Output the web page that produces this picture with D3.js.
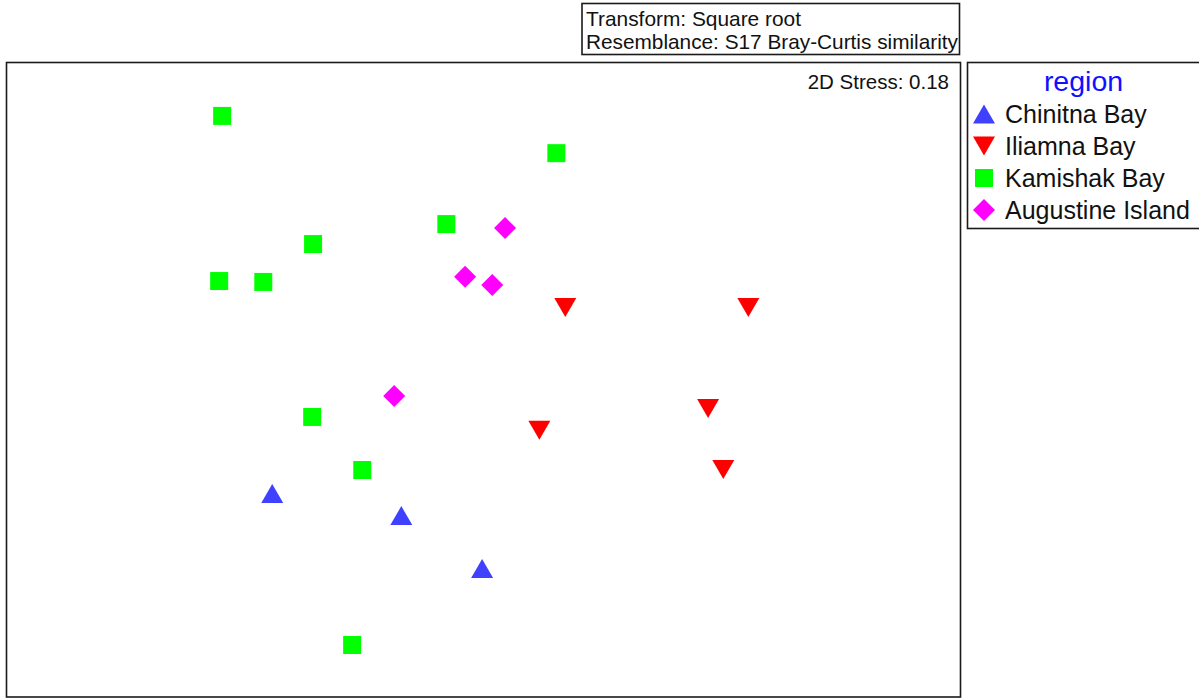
<!DOCTYPE html>
<html><head><meta charset="utf-8">
<script src="https://cdn.jsdelivr.net/npm/d3@7"></script>
<style>body{margin:0;background:#fff;} svg{display:block;font-family:"Liberation Sans",Arial,sans-serif;}</style>
</head><body>
<script>
// nMDS coordinates (MDS1, MDS2) per region
const regions = ["Chinitna Bay", "Iliamna Bay", "Kamishak Bay", "Augustine Island"];
const chinitnaX = [-0.711, -0.278, -0.007];
const chinitnaY = [-0.381, -0.455, -0.632];
const iliamnaX = [0.272, 0.886, 0.751, 0.185, 0.802];
const iliamnaY = [0.243, 0.243, -0.096, -0.169, -0.300];
const kamishakX = [-0.879, 0.242, -0.127, -0.574, -0.889, -0.741, -0.577, -0.409, -0.443];
const kamishakY = [0.886, 0.761, 0.523, 0.456, 0.332, 0.329, -0.124, -0.302, -0.889];
const augustineX = [0.070, -0.064, 0.027, -0.302];
const augustineY = [0.510, 0.346, 0.319, -0.054];
const stressLabel = "2D Stress: 0.18";
const infoLines = ["Transform: Square root", "Resemblance: S17 Bray-Curtis similarity"];
const legendTitle = "region";

const W = 1199, H = 698;
const svg = d3.select("body").append("svg").attr("width", W).attr("height", H);

const plot = {x0: 6.5, y0: 62.5, x1: 960.5, y1: 697};
const x = d3.scaleLinear().domain([-1.6, 1.6]).range([7.2, 961.2]);
const y = d3.scaleLinear().domain([-1.0635, 1.0635]).range([697, 63]);

const colors = d3.scaleOrdinal().domain(regions).range(["#4040ff", "#ff0000", "#00ff00", "#ff00ff"]);

function shapePath(kind) {
  const p = d3.path();
  if (kind === "Chinitna Bay") { p.moveTo(0, -9.5); p.lineTo(11, 9.5); p.lineTo(-11, 9.5); p.closePath(); }
  else if (kind === "Iliamna Bay") { p.moveTo(-11, -9.5); p.lineTo(11, -9.5); p.lineTo(0, 9.5); p.closePath(); }
  else if (kind === "Kamishak Bay") { p.rect(-9, -9, 18, 18); }
  else { p.moveTo(0, -11); p.lineTo(11, 0); p.lineTo(0, 11); p.lineTo(-11, 0); p.closePath(); }
  return p.toString();
}

const pts = [];
const add = (r, xs, ys) => xs.forEach((v, i) => pts.push({region: r, mx: v, my: ys[i]}));
add("Chinitna Bay", chinitnaX, chinitnaY);
add("Iliamna Bay", iliamnaX, iliamnaY);
add("Kamishak Bay", kamishakX, kamishakY);
add("Augustine Island", augustineX, augustineY);

// plot frame
svg.append("rect").attr("x", plot.x0).attr("y", plot.y0)
  .attr("width", plot.x1 - plot.x0).attr("height", plot.y1 - plot.y0)
  .attr("fill", "none").attr("stroke", "#1a1a1a").attr("stroke-width", 1.6);

svg.append("g").selectAll("path").data(pts).join("path")
  .attr("d", d => shapePath(d.region))
  .attr("transform", d => `translate(${x(d.mx)},${y(d.my)})`)
  .attr("fill", d => colors(d.region));

svg.append("text").attr("x", 949).attr("y", 89).attr("text-anchor", "end")
  .attr("font-size", 20.5).attr("fill", "#111").text(stressLabel);

// info box
svg.append("rect").attr("x", 582).attr("y", 3.5).attr("width", 377.5).attr("height", 51)
  .attr("fill", "none").attr("stroke", "#1a1a1a").attr("stroke-width", 1.6);
svg.append("text").attr("x", 586).attr("y", 25.5).attr("font-size", 21).attr("fill", "#111")
  .attr("textLength", 215).attr("lengthAdjust", "spacingAndGlyphs").text(infoLines[0]);
svg.append("text").attr("x", 586).attr("y", 49).attr("font-size", 21).attr("fill", "#111")
  .attr("textLength", 372).attr("lengthAdjust", "spacingAndGlyphs").text(infoLines[1]);

// legend
svg.append("rect").attr("x", 967.5).attr("y", 62.5).attr("width", 240).attr("height", 166)
  .attr("fill", "none").attr("stroke", "#1a1a1a").attr("stroke-width", 1.6);
svg.append("text").attr("x", 1083.5).attr("y", 91).attr("text-anchor", "middle")
  .attr("font-size", 28.5).attr("fill", "#1010ff").text(legendTitle);
const lg = svg.append("g").selectAll("g").data(regions).join("g")
  .attr("transform", (d, i) => `translate(984,${114 + i * 32})`);
lg.append("path").attr("d", d => shapePath(d)).attr("fill", d => colors(d));
lg.append("text").attr("x", 21).attr("y", 9).attr("font-size", 25).attr("fill", "#111").text(d => d);
</script>
</body></html>
